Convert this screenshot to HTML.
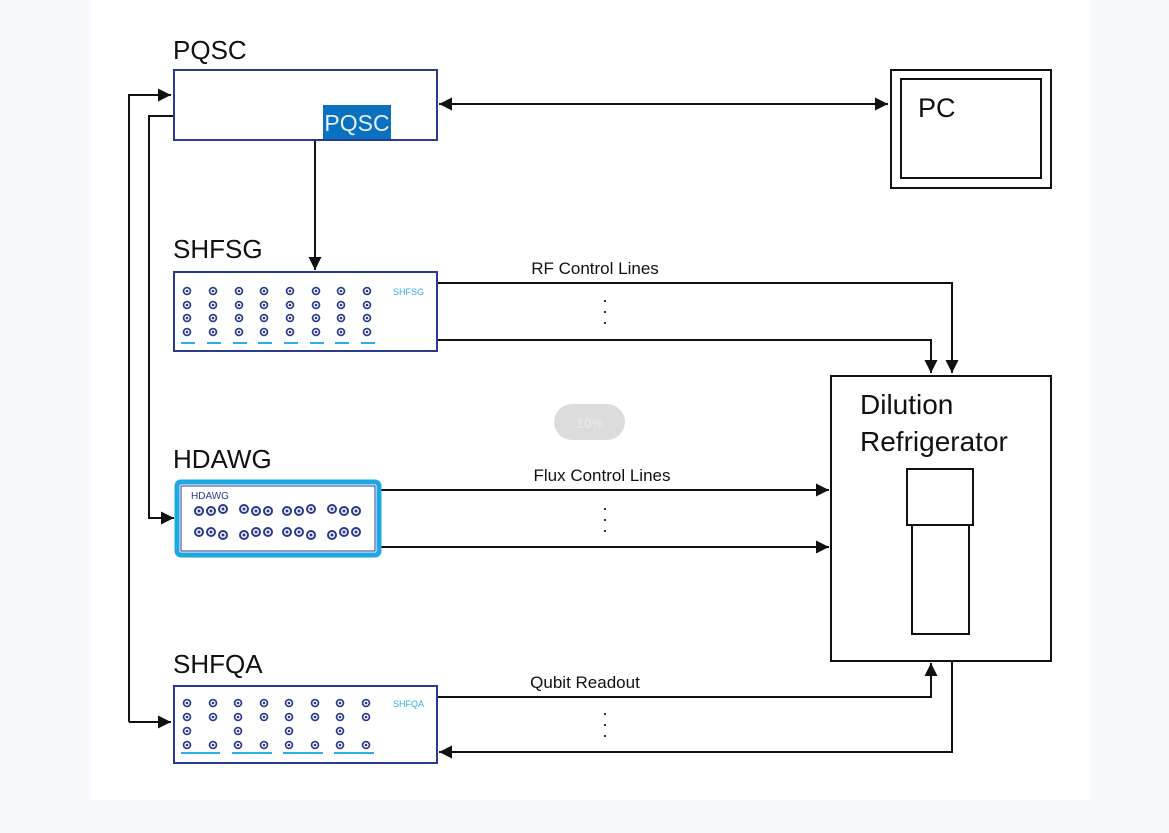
<!DOCTYPE html>
<html><head><meta charset="utf-8"><style>
html,body{margin:0;padding:0;background:#f7f9fd;}
svg{display:block;font-family:"Liberation Sans","DejaVu Sans",sans-serif;}
</style></head><body>
<svg width="1169" height="833" viewBox="0 0 1169 833" xmlns="http://www.w3.org/2000/svg">
<defs>
<marker id="a" viewBox="0 0 10 10" refX="10" refY="5" markerWidth="13" markerHeight="13" markerUnits="userSpaceOnUse" orient="auto"><path d="M0,0 L10,5 L0,10 z" fill="#111"/></marker>
<g id="c"><circle r="4.3" fill="#2b3990"/><circle r="2.6" fill="#fff"/><circle r="1.3" fill="#2b3990"/></g>
<g id="h"><circle r="5" fill="#2b3990"/><circle r="3" fill="#fff"/><circle r="1.5" fill="#2b3990"/></g>
</defs>
<rect x="0" y="0" width="1169" height="833" fill="#f7f9fd"/>
<rect x="90" y="0" width="1000" height="800" fill="#fff"/>

<g fill="none" stroke="#111" stroke-width="2">
<!-- left buses -->
<polyline points="129,722 129,95 171,95" marker-end="url(#a)"/>
<line x1="129" y1="722" x2="171" y2="722" marker-end="url(#a)"/>
<polyline points="173,116 149,116 149,518 174,518" marker-end="url(#a)"/>
<!-- PQSC-PC -->
<line x1="450" y1="104" x2="888" y2="104" marker-end="url(#a)"/>
<line x1="880" y1="104" x2="439" y2="104" marker-end="url(#a)"/>
<!-- PQSC down -->
<line x1="315" y1="140" x2="315" y2="270" marker-end="url(#a)"/>
<!-- SHFSG lines -->
<polyline points="437,283 952,283 952,373" marker-end="url(#a)"/>
<polyline points="437,340 931,340 931,373" marker-end="url(#a)"/>
<!-- HDAWG lines -->
<line x1="381" y1="490" x2="829" y2="490" marker-end="url(#a)"/>
<line x1="381" y1="547" x2="829" y2="547" marker-end="url(#a)"/>
<!-- SHFQA lines -->
<polyline points="437,697 931,697 931,663" marker-end="url(#a)"/>
<polyline points="952,661 952,752 439,752" marker-end="url(#a)"/>
</g>

<!-- PQSC -->
<text x="173" y="59" font-size="26" fill="#111">PQSC</text>
<rect x="174" y="70" width="263" height="70" fill="#fff" stroke="#2b3990" stroke-width="2"/>
<rect x="323" y="105" width="68" height="34" fill="#0a70c0"/>
<text x="357" y="131" font-size="23" fill="#e8eef8" text-anchor="middle">PQSC</text>

<!-- PC -->
<rect x="891" y="70" width="160" height="118" fill="#fff" stroke="#111" stroke-width="2"/>
<rect x="901" y="79" width="140" height="99" fill="none" stroke="#111" stroke-width="2"/>
<text x="918" y="117" font-size="27" fill="#111">PC</text>

<!-- SHFSG -->
<text x="173" y="258" font-size="26" fill="#111">SHFSG</text>
<rect x="174" y="272" width="263" height="79" fill="#fff" stroke="#2b3990" stroke-width="2"/>
<text x="393" y="295" font-size="9" fill="#2ab0e8">SHFSG</text>
<g>
<use href="#c" x="187" y="291"/><use href="#c" x="187" y="305"/><use href="#c" x="187" y="318"/><use href="#c" x="187" y="332"/>
<use href="#c" x="213" y="291"/><use href="#c" x="213" y="305"/><use href="#c" x="213" y="318"/><use href="#c" x="213" y="332"/>
<use href="#c" x="239" y="291"/><use href="#c" x="239" y="305"/><use href="#c" x="239" y="318"/><use href="#c" x="239" y="332"/>
<use href="#c" x="264" y="291"/><use href="#c" x="264" y="305"/><use href="#c" x="264" y="318"/><use href="#c" x="264" y="332"/>
<use href="#c" x="290" y="291"/><use href="#c" x="290" y="305"/><use href="#c" x="290" y="318"/><use href="#c" x="290" y="332"/>
<use href="#c" x="316" y="291"/><use href="#c" x="316" y="305"/><use href="#c" x="316" y="318"/><use href="#c" x="316" y="332"/>
<use href="#c" x="341" y="291"/><use href="#c" x="341" y="305"/><use href="#c" x="341" y="318"/><use href="#c" x="341" y="332"/>
<use href="#c" x="367" y="291"/><use href="#c" x="367" y="305"/><use href="#c" x="367" y="318"/><use href="#c" x="367" y="332"/>
</g>
<g stroke="#2ab0e8" stroke-width="2">
<line x1="181" y1="343" x2="195" y2="343"/><line x1="207" y1="343" x2="221" y2="343"/><line x1="233" y1="343" x2="247" y2="343"/><line x1="258" y1="343" x2="272" y2="343"/>
<line x1="284" y1="343" x2="298" y2="343"/><line x1="310" y1="343" x2="324" y2="343"/><line x1="335" y1="343" x2="349" y2="343"/><line x1="361" y1="343" x2="375" y2="343"/>
</g>

<text x="595" y="274" font-size="17" fill="#111" text-anchor="middle">RF Control Lines</text>
<text x="605" y="302" font-size="18" fill="#111" text-anchor="middle">.</text>
<text x="605" y="313" font-size="18" fill="#111" text-anchor="middle">.</text>
<text x="605" y="324" font-size="18" fill="#111" text-anchor="middle">.</text>

<!-- pill -->
<rect x="554" y="404" width="71" height="36" rx="18" fill="#dcdcdc"/>
<text x="590" y="428" font-size="14" font-weight="bold" fill="#e6e6e6" text-anchor="middle">10%</text>

<!-- Fridge -->
<rect x="831" y="376" width="220" height="285" fill="#fff" stroke="#111" stroke-width="2"/>
<text x="860" y="414" font-size="28" fill="#111">Dilution</text>
<text x="860" y="451" font-size="28" fill="#111">Refrigerator</text>
<rect x="907" y="469" width="66" height="56" fill="none" stroke="#111" stroke-width="2"/>
<rect x="912" y="525" width="57" height="109" fill="none" stroke="#111" stroke-width="2"/>

<!-- HDAWG -->
<text x="173" y="468" font-size="26" fill="#111">HDAWG</text>
<rect x="177" y="482" width="202" height="73" rx="4" fill="#fff" stroke="#1ca8e0" stroke-width="5"/>
<rect x="181" y="486" width="194" height="65" fill="none" stroke="#2b3990" stroke-width="1"/>
<text x="191" y="499" font-size="10" fill="#2b3990">HDAWG</text>
<g>
<use href="#h" x="199" y="511"/><use href="#h" x="211" y="511"/><use href="#h" x="223" y="509"/>
<use href="#h" x="244" y="509"/><use href="#h" x="256" y="511"/><use href="#h" x="268" y="511"/>
<use href="#h" x="287" y="511"/><use href="#h" x="299" y="511"/><use href="#h" x="311" y="509"/>
<use href="#h" x="332" y="509"/><use href="#h" x="344" y="511"/><use href="#h" x="356" y="511"/>
<use href="#h" x="199" y="532"/><use href="#h" x="211" y="532"/><use href="#h" x="223" y="535"/>
<use href="#h" x="244" y="535"/><use href="#h" x="256" y="532"/><use href="#h" x="268" y="532"/>
<use href="#h" x="287" y="532"/><use href="#h" x="299" y="532"/><use href="#h" x="311" y="535"/>
<use href="#h" x="332" y="535"/><use href="#h" x="344" y="532"/><use href="#h" x="356" y="532"/>
</g>

<text x="602" y="481" font-size="17" fill="#111" text-anchor="middle">Flux Control Lines</text>
<text x="605" y="510" font-size="18" fill="#111" text-anchor="middle">.</text>
<text x="605" y="521" font-size="18" fill="#111" text-anchor="middle">.</text>
<text x="605" y="532" font-size="18" fill="#111" text-anchor="middle">.</text>

<!-- SHFQA -->
<text x="173" y="673" font-size="26" fill="#111">SHFQA</text>
<rect x="174" y="686" width="263" height="77" fill="#fff" stroke="#2b3990" stroke-width="2"/>
<text x="393" y="707" font-size="9" fill="#2ab0e8">SHFQA</text>
<g>
<use href="#c" x="187" y="703"/><use href="#c" x="187" y="717"/><use href="#c" x="187" y="731"/><use href="#c" x="187" y="745"/>
<use href="#c" x="213" y="703"/><use href="#c" x="213" y="717"/><use href="#c" x="213" y="745"/>
<use href="#c" x="238" y="703"/><use href="#c" x="238" y="717"/><use href="#c" x="238" y="731"/><use href="#c" x="238" y="745"/>
<use href="#c" x="264" y="703"/><use href="#c" x="264" y="717"/><use href="#c" x="264" y="745"/>
<use href="#c" x="289" y="703"/><use href="#c" x="289" y="717"/><use href="#c" x="289" y="731"/><use href="#c" x="289" y="745"/>
<use href="#c" x="315" y="703"/><use href="#c" x="315" y="717"/><use href="#c" x="315" y="745"/>
<use href="#c" x="340" y="703"/><use href="#c" x="340" y="717"/><use href="#c" x="340" y="731"/><use href="#c" x="340" y="745"/>
<use href="#c" x="366" y="703"/><use href="#c" x="366" y="717"/><use href="#c" x="366" y="745"/>
</g>
<g stroke="#2ab0e8" stroke-width="2">
<line x1="181" y1="753" x2="220" y2="753"/><line x1="232" y1="753" x2="272" y2="753"/>
<line x1="283" y1="753" x2="323" y2="753"/><line x1="334" y1="753" x2="374" y2="753"/>
</g>

<text x="585" y="688" font-size="17" fill="#111" text-anchor="middle">Qubit Readout</text>
<text x="605" y="715" font-size="18" fill="#111" text-anchor="middle">.</text>
<text x="605" y="726" font-size="18" fill="#111" text-anchor="middle">.</text>
<text x="605" y="737" font-size="18" fill="#111" text-anchor="middle">.</text>
</svg>
</body></html>
